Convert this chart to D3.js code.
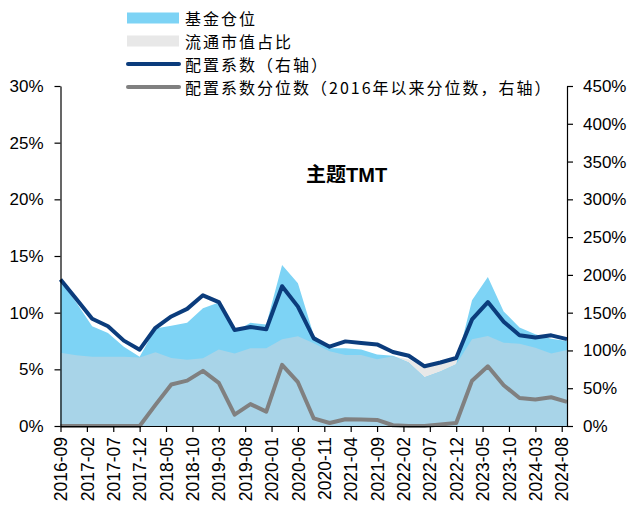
<!DOCTYPE html>
<html>
<head>
<meta charset="utf-8">
<script src="https://cdn.jsdelivr.net/npm/d3@7"></script>
<style>
  body { margin: 0; background: #fff; }
  svg { display: block; font-family: Arial, "Liberation Sans", "Noto Sans CJK SC", sans-serif; }
</style>
</head>
<body>
<div id="chart"></div>
<script>
// quarterly observations
const dates = ['2016-09','2016-12','2017-03','2017-06','2017-09','2017-12','2018-03','2018-06','2018-09','2018-12',
  '2019-03','2019-06','2019-09','2019-12','2020-03','2020-06','2020-09','2020-12','2021-03','2021-06',
  '2021-09','2021-12','2022-03','2022-06','2022-09','2022-12','2023-03','2023-06','2023-09','2023-12',
  '2024-03','2024-06','2024-09'];

// 基金仓位 (left axis, %)
const fundPos = [12.8,10.9,8.8,8.2,7.0,6.1,8.6,8.85,9.1,10.4,10.9,8.3,9.1,8.95,14.2,12.6,8.0,6.85,6.85,6.75,
  6.3,6.2,5.6,4.3,4.8,5.45,11.1,13.15,10.1,8.7,8.1,7.7,7.5];
// 流通市值占比 (left axis, %)
const mktShare = [6.47,6.25,6.1,6.1,6.1,6.05,6.5,6.0,5.85,5.97,6.76,6.4,6.85,6.85,7.65,7.92,7.3,6.6,6.26,6.26,
  5.9,6.15,5.9,5.15,5.6,5.75,7.65,7.94,7.35,7.26,6.9,6.4,6.7];
// 配置系数 (right axis, %)
const coef = [194,168,142,132,113,101,130,145,155,173,164,127,131,128,185,158,116,105,112,110,
  108,98,93,79,84,90,141,164,138,120,117,120,115];
// 配置系数分位数 (right axis, %)
const pctile = [0,0,0,0,0,0,28,55,60,73,57,15,29,19,81,58,10,4,9,8.5,
  8,1,0,0,2,4,60,79,54,37,35,38,32];

const xTicks = ['2016-09','2017-02','2017-07','2017-12','2018-05','2018-10','2019-03','2019-08','2020-01',
  '2020-06','2020-11','2021-04','2021-09','2022-02','2022-07','2022-12','2023-05','2023-10','2024-03','2024-08'];
const leftTicks = [0,5,10,15,20,25,30];
const rightTicks = [0,50,100,150,200,250,300,350,400,450];

const legendItems = [
  { name: '基金仓位', type: 'rect', color: '#7dd3f5' },
  { name: '流通市值占比', type: 'rect', color: '#e8e8e8' },
  { name: '配置系数（右轴）', type: 'line', color: '#0b3c7c' },
  { name: '配置系数分位数（2016年以来分位数，右轴）', type: 'line', color: '#808080' }
];

const W = 633, H = 508;
const plot = { left: 60.5, right: 567, top: 86, bottom: 426 };

// month index from 2016-09
function monthIdx(s) {
  const [y, m] = s.split('-').map(Number);
  return (y - 2016) * 12 + (m - 9);
}

const data = dates.map((d, i) => ({
  m: monthIdx(d), fund: fundPos[i], mkt: mktShare[i], coef: coef[i], pct: pctile[i]
}));

const x = d3.scaleLinear().domain([0, monthIdx('2024-09')]).range([plot.left, plot.right]);
const yL = d3.scaleLinear().domain([0, 30]).range([plot.bottom, plot.top]);
const yR = d3.scaleLinear().domain([0, 450]).range([plot.bottom, plot.top]);

const svg = d3.select('#chart').append('svg')
  .attr('width', W).attr('height', H);

// areas
const area = key => d3.area().x(d => x(d.m)).y0(yL(0)).y1(d => yL(key(d)));

svg.append('path').datum(data).attr('fill', '#e8e8e8').attr('d', area(d => d.mkt));
svg.append('path').datum(data).attr('fill', '#7dd3f5').attr('d', area(d => d.fund));
// overlap of the two areas
svg.append('path').datum(data).attr('fill', '#a8d4e8').attr('d', area(d => Math.min(d.fund, d.mkt)));

// lines
const line = key => d3.line().x(d => x(d.m)).y(d => yR(key(d)));

svg.append('path').datum(data)
  .attr('fill', 'none').attr('stroke', '#808080').attr('stroke-width', 4)
  .attr('stroke-linejoin', 'round')
  .attr('d', line(d => d.pct));

svg.append('path').datum(data)
  .attr('fill', 'none').attr('stroke', '#0b3c7c').attr('stroke-width', 4)
  .attr('stroke-linejoin', 'round')
  .attr('d', line(d => d.coef));

// axes
const styleAxis = g => {
  g.select('.domain').attr('stroke', '#000').attr('stroke-width', 1.2);
  g.selectAll('.tick line').attr('stroke', '#000').attr('stroke-width', 1.2);
  g.selectAll('.tick text').attr('fill', '#000').style('font-size', '17px')
    .style('font-family', 'Arial, "Liberation Sans", sans-serif');
};

svg.append('g')
  .attr('transform', `translate(${plot.left},0)`)
  .call(d3.axisLeft(yL).tickValues(leftTicks).tickFormat(d => d + '%').tickSize(6).tickPadding(11).tickSizeOuter(0))
  .call(styleAxis);

svg.append('g')
  .attr('transform', `translate(${plot.right},0)`)
  .call(d3.axisRight(yR).tickValues(rightTicks).tickFormat(d => d + '%').tickSize(6).tickPadding(10).tickSizeOuter(0))
  .call(styleAxis);

const xAxis = svg.append('g')
  .attr('transform', `translate(0,${plot.bottom})`)
  .call(d3.axisBottom(x).tickValues(xTicks.map(monthIdx)).tickSize(6).tickSizeOuter(0)
    .tickFormat((d, i) => xTicks[i]))
  .call(styleAxis);

xAxis.selectAll('.tick text')
  .attr('transform', 'rotate(-90)')
  .attr('text-anchor', 'end')
  .attr('x', -11)
  .attr('y', 0)
  .attr('dy', '0.35em')
  .style('font-size', '17.5px');

// title inside plot
svg.append('text')
  .attr('x', 306).attr('y', 175)
  .attr('dominant-baseline', 'central')
  .style('font-size', '20px').style('font-weight', 'bold')
  .style('font-family', 'Arial, "Noto Sans CJK SC", sans-serif')
  .text('主题TMT');

// legend
const legend = svg.append('g').attr('transform', 'translate(127,18)');
const rows = legend.selectAll('g').data(legendItems).enter().append('g')
  .attr('transform', (d, i) => `translate(0,${i * 23})`);

rows.filter(d => d.type === 'rect').append('rect')
  .attr('x', 0).attr('y', -5.5).attr('width', 52).attr('height', 11)
  .attr('fill', d => d.color);

rows.filter(d => d.type === 'line').append('line')
  .attr('x1', 1).attr('x2', 52).attr('y1', 0).attr('y2', 0)
  .attr('stroke', d => d.color).attr('stroke-width', 4).attr('stroke-linecap', 'round');

rows.append('text')
  .attr('x', 58).attr('y', 0)
  .attr('dominant-baseline', 'central')
  .style('font-size', '16px').style('letter-spacing', '2px')
  .style('font-family', '"Noto Sans CJK SC", sans-serif')
  .text(d => d.name);
</script>
</body>
</html>
